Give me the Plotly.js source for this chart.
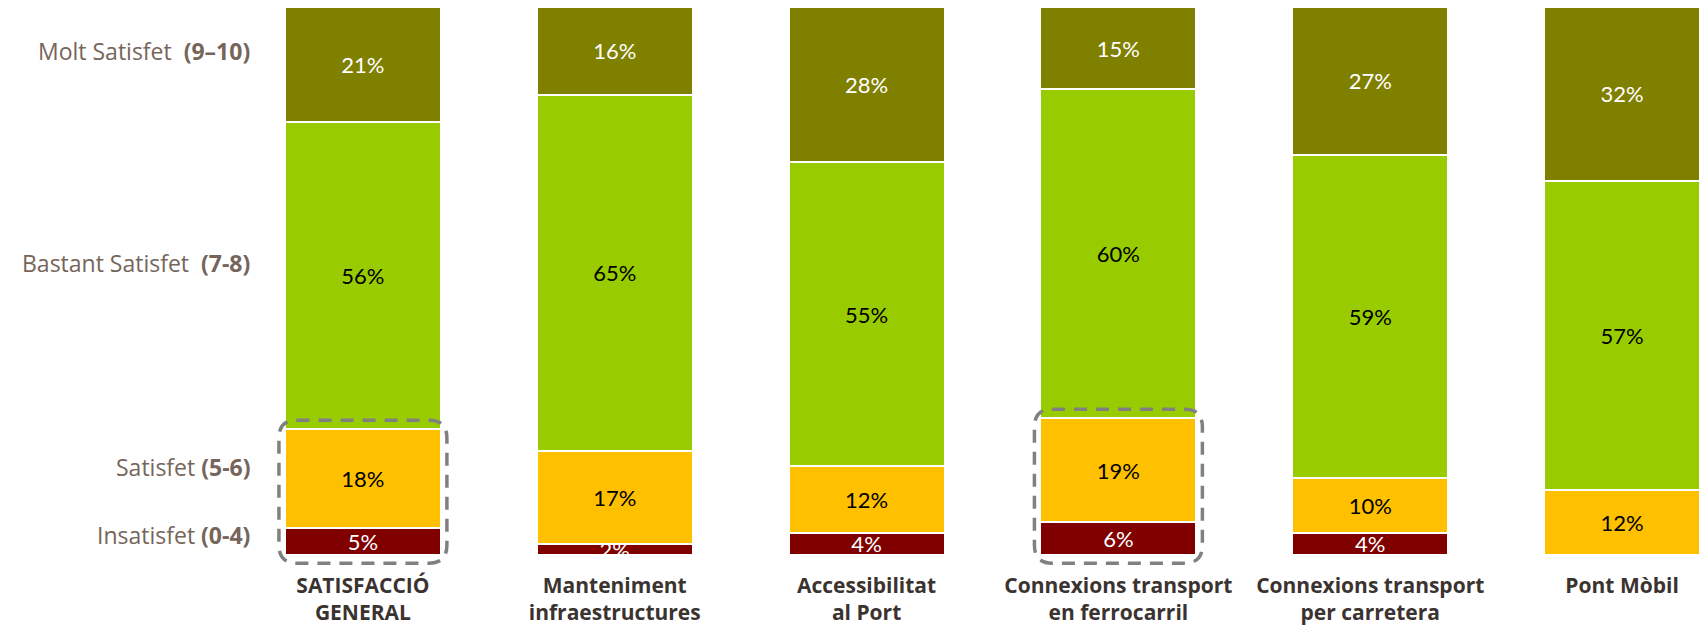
<!DOCTYPE html>
<html>
<head>
<meta charset="utf-8">
<script src="https://cdn.plot.ly/plotly-3.0.1.min.js"></script>
<style>html,body{margin:0;padding:0;background:#fff;}#chart{width:1700px;height:626px;}</style>
</head>
<body>
<div id="chart"></div>
<script>
// ---- data ----
const categories = ['SATISFACCIÓ<br>GENERAL', 'Manteniment<br>infraestructures', 'Accessibilitat<br>al Port', 'Connexions transport<br>en ferrocarril', 'Connexions transport<br>per carretera', 'Pont Mòbil'];
const molt = [21, 16, 28, 15, 27, 32];
const bastant = [56, 65, 55, 60, 59, 57];
const satisfet = [18, 17, 12, 19, 10, 12];
const insatisfet = [5, 2, 4, 6, 4, null];
const levelNames = ['Insatisfet', 'Satisfet', 'Bastant Satisfet', 'Molt Satisfet'];
const levelRanges = ['(0-4)', '(5-6)', '(7-8)', '(9–10)'];
const highlighted = [0, 3];

const colors = ['#800000', '#FFC000', '#99CC00', '#808000'];
const textColors = ['#ffffff', '#000000', '#000000', '#ffffff'];
const series = [insatisfet, satisfet, bastant, molt];
const xIdx = categories.map((c, i) => i);
const BW = 0.619;
const FONT = 'Lato, "Open Sans", sans-serif';
const LFONT = '"Open Sans", Lato, sans-serif';

const traces = series.map((vals, k) => ({
  type: 'bar',
  x: xIdx,
  y: vals,
  name: levelNames[k],
  width: BW,
  marker: {color: colors[k], line: {color: '#ffffff', width: 2}},
  text: vals.map(v => v == null ? '' : v + '%'),
  textposition: 'inside',
  insidetextanchor: 'middle',
  textangle: 0,
  textfont: {family: FONT, size: 22, color: textColors[k]},
  hoverinfo: 'skip',
  cliponaxis: false
}));

// dashed rounded boxes around Satisfet + Insatisfet of highlighted bars
const shapes = highlighted.map(i => {
  const tot = molt[i] + bastant[i] + satisfet[i] + (insatisfet[i] || 0);
  const low = (satisfet[i] + (insatisfet[i] || 0)) / tot * 100;
  const padX = 0.024, padT = 1.6, padB = 1.5;
  const x0 = i - BW / 2 - padX, x1 = i + BW / 2 + padX;
  const y0 = -padB, y1 = low + padT;
  const rx = 0.07, ry = 3.3;
  const p = `M ${x0 + rx},${y1} L ${x1 - rx},${y1} Q ${x1},${y1} ${x1},${y1 - ry} ` +
            `L ${x1},${y0 + ry} Q ${x1},${y0} ${x1 - rx},${y0} ` +
            `L ${x0 + rx},${y0} Q ${x0},${y0} ${x0},${y0 + ry} ` +
            `L ${x0},${y1 - ry} Q ${x0},${y1} ${x0 + rx},${y1} Z`;
  return {type: 'path', xref: 'x', yref: 'y', path: p,
          line: {color: '#808080', width: 3.5, dash: '13px,9px'}, layer: 'above'};
});

// left level labels
const labelY = [0.057, 0.179, 0.543, 0.922];
const annotations = levelNames.map((n, k) => ({
  xref: 'paper', yref: 'paper', x: 0.0105, y: labelY[k],
  xanchor: 'right', yanchor: 'middle', showarrow: false,
  text: n + (k >= 2 ? '  ' : ' ') + '<b>' + levelRanges[k] + '</b>',
  font: {family: LFONT, size: 23, color: '#76655B'}
}));

const layout = {
  width: 1700, height: 626,
  margin: {l: 237, r: 0, t: 7, b: 59, pad: 0},
  barmode: 'stack',
  barnorm: 'percent',
  showlegend: false,
  paper_bgcolor: '#ffffff', plot_bgcolor: '#ffffff',
  uniformtext: {mode: 'show', minsize: 22},
  xaxis: {
    type: 'linear', range: [-0.5, 5.3095],
    tickmode: 'array', tickvals: xIdx, ticktext: categories.map(c => '<b>' + c + '</b>'),
    showgrid: false, zeroline: false, showline: false, ticks: '',
    tickfont: {family: LFONT, size: 21, color: '#3B3330'},
    ticklabelstandoff: 4
  },
  yaxis: {
    range: [-2.2, 100], showgrid: false, zeroline: false, showline: false,
    showticklabels: false, ticks: ''
  },
  shapes: shapes,
  annotations: annotations,
  font: {family: FONT}
};

Plotly.newPlot('chart', traces, layout, {displayModeBar: false, staticPlot: true});
</script>
</body>
</html>
